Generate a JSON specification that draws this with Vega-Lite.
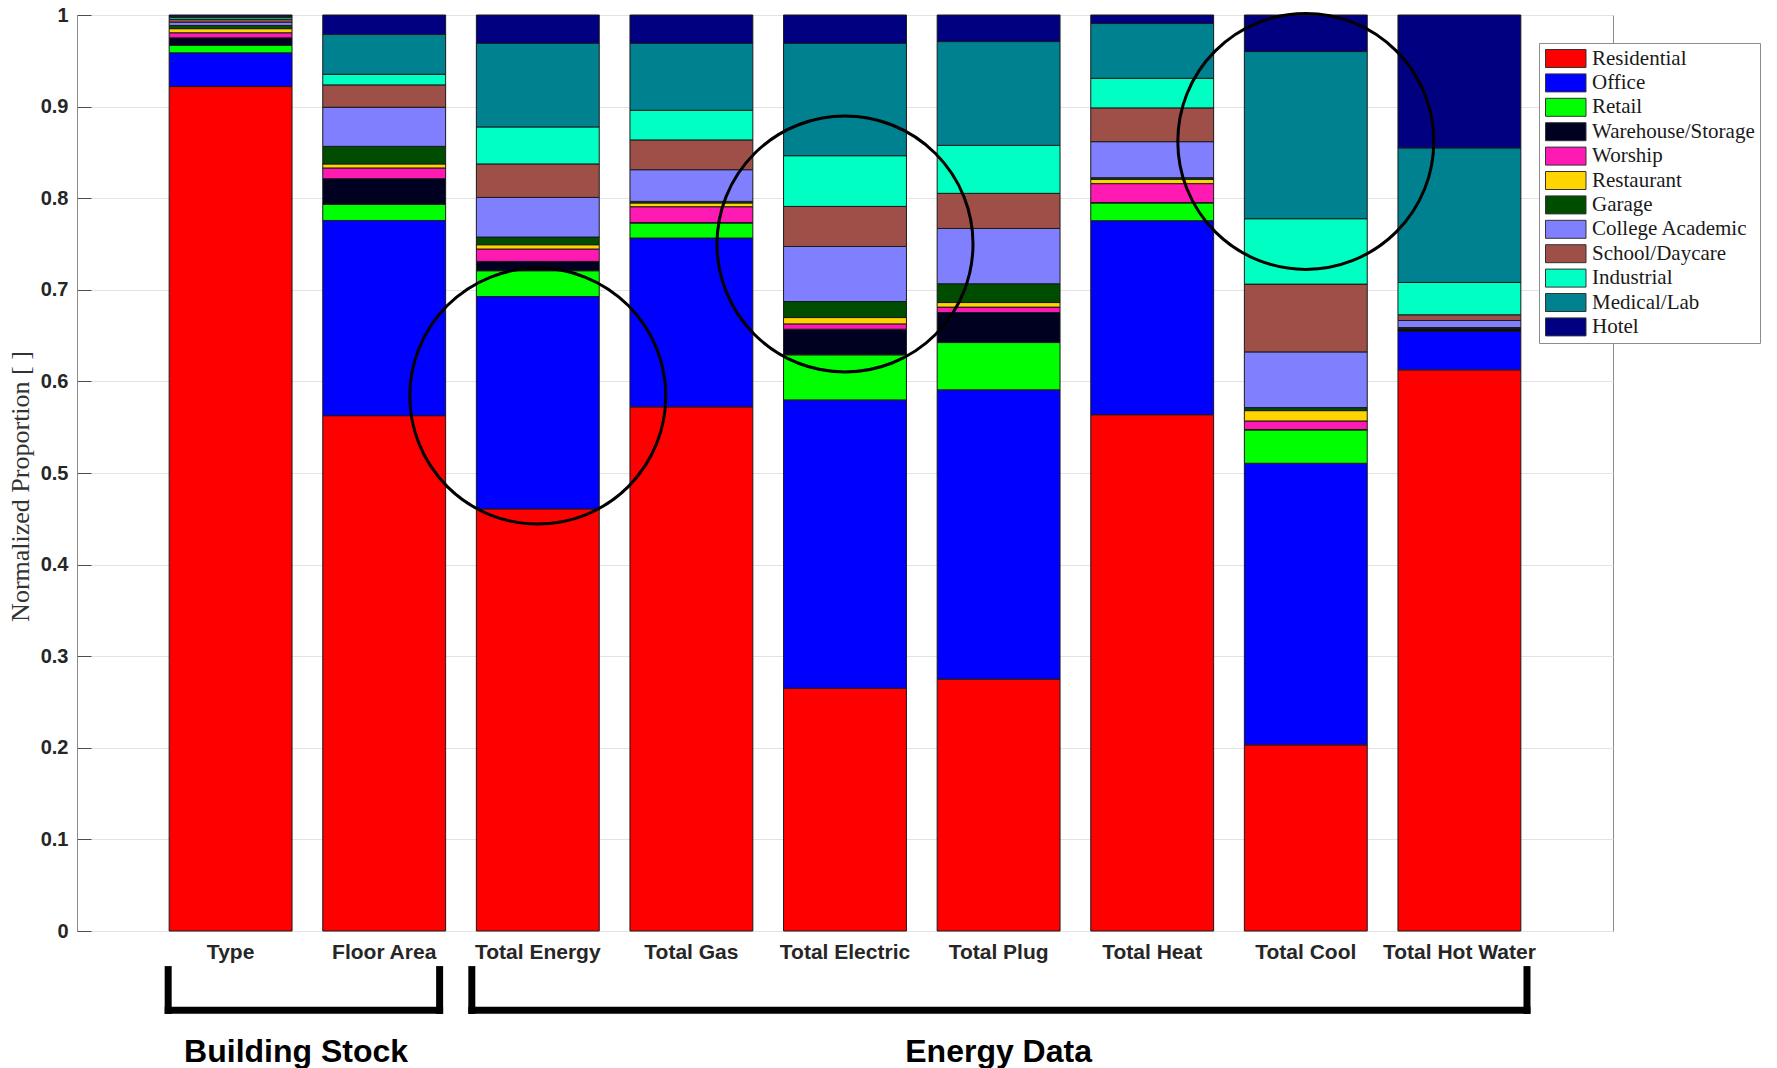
{
  "$schema": "https://vega.github.io/schema/vega-lite/v6.json",
  "width": 1536,
  "height": 916,
  "autosize": {"type": "none"},
  "padding": {"left": 77, "top": 15, "right": 164, "bottom": 137},
  "background": "white",
  "config": {"view": {"stroke": "#8c8c8c", "strokeWidth": 1}},
  "datasets": {
    "shares": [
      {"measure": "Type", "type": "Residential", "share": 0.9219},
      {"measure": "Type", "type": "Office", "share": 0.0368},
      {"measure": "Type", "type": "Retail", "share": 0.0083},
      {"measure": "Type", "type": "Warehouse/Storage", "share": 0.0081},
      {"measure": "Type", "type": "Worship", "share": 0.0055},
      {"measure": "Type", "type": "Restaurant", "share": 0.0045},
      {"measure": "Type", "type": "Garage", "share": 0.0035},
      {"measure": "Type", "type": "College Academic", "share": 0.0036},
      {"measure": "Type", "type": "School/Daycare", "share": 0.003},
      {"measure": "Type", "type": "Industrial", "share": 0.0019},
      {"measure": "Type", "type": "Medical/Lab", "share": 0.0015},
      {"measure": "Type", "type": "Hotel", "share": 0.0014},
      {"measure": "Floor Area", "type": "Residential", "share": 0.5626},
      {"measure": "Floor Area", "type": "Office", "share": 0.2131},
      {"measure": "Floor Area", "type": "Retail", "share": 0.0176},
      {"measure": "Floor Area", "type": "Warehouse/Storage", "share": 0.028},
      {"measure": "Floor Area", "type": "Worship", "share": 0.0117},
      {"measure": "Floor Area", "type": "Restaurant", "share": 0.0044},
      {"measure": "Floor Area", "type": "Garage", "share": 0.0192},
      {"measure": "Floor Area", "type": "College Academic", "share": 0.0427},
      {"measure": "Floor Area", "type": "School/Daycare", "share": 0.0244},
      {"measure": "Floor Area", "type": "Industrial", "share": 0.0116},
      {"measure": "Floor Area", "type": "Medical/Lab", "share": 0.0434},
      {"measure": "Floor Area", "type": "Hotel", "share": 0.0213},
      {"measure": "Total Energy", "type": "Residential", "share": 0.4608},
      {"measure": "Total Energy", "type": "Office", "share": 0.2319},
      {"measure": "Total Energy", "type": "Retail", "share": 0.0281},
      {"measure": "Total Energy", "type": "Warehouse/Storage", "share": 0.0102},
      {"measure": "Total Energy", "type": "Worship", "share": 0.0135},
      {"measure": "Total Energy", "type": "Restaurant", "share": 0.0047},
      {"measure": "Total Energy", "type": "Garage", "share": 0.0084},
      {"measure": "Total Energy", "type": "College Academic", "share": 0.0433},
      {"measure": "Total Energy", "type": "School/Daycare", "share": 0.0365},
      {"measure": "Total Energy", "type": "Industrial", "share": 0.0404},
      {"measure": "Total Energy", "type": "Medical/Lab", "share": 0.0914},
      {"measure": "Total Energy", "type": "Hotel", "share": 0.0308},
      {"measure": "Total Gas", "type": "Residential", "share": 0.5722},
      {"measure": "Total Gas", "type": "Office", "share": 0.1843},
      {"measure": "Total Gas", "type": "Retail", "share": 0.0164},
      {"measure": "Total Gas", "type": "Warehouse/Storage", "share": 0.0006},
      {"measure": "Total Gas", "type": "Worship", "share": 0.0172},
      {"measure": "Total Gas", "type": "Restaurant", "share": 0.0041},
      {"measure": "Total Gas", "type": "Garage", "share": 0.0017},
      {"measure": "Total Gas", "type": "College Academic", "share": 0.0346},
      {"measure": "Total Gas", "type": "School/Daycare", "share": 0.0325},
      {"measure": "Total Gas", "type": "Industrial", "share": 0.0324},
      {"measure": "Total Gas", "type": "Medical/Lab", "share": 0.0732},
      {"measure": "Total Gas", "type": "Hotel", "share": 0.0308},
      {"measure": "Total Electric", "type": "Residential", "share": 0.2651},
      {"measure": "Total Electric", "type": "Office", "share": 0.3147},
      {"measure": "Total Electric", "type": "Retail", "share": 0.0492},
      {"measure": "Total Electric", "type": "Warehouse/Storage", "share": 0.028},
      {"measure": "Total Electric", "type": "Worship", "share": 0.0058},
      {"measure": "Total Electric", "type": "Restaurant", "share": 0.0069},
      {"measure": "Total Electric", "type": "Garage", "share": 0.0175},
      {"measure": "Total Electric", "type": "College Academic", "share": 0.0601},
      {"measure": "Total Electric", "type": "School/Daycare", "share": 0.0437},
      {"measure": "Total Electric", "type": "Industrial", "share": 0.0554},
      {"measure": "Total Electric", "type": "Medical/Lab", "share": 0.1228},
      {"measure": "Total Electric", "type": "Hotel", "share": 0.0308},
      {"measure": "Total Plug", "type": "Residential", "share": 0.275},
      {"measure": "Total Plug", "type": "Office", "share": 0.3158},
      {"measure": "Total Plug", "type": "Retail", "share": 0.0516},
      {"measure": "Total Plug", "type": "Warehouse/Storage", "share": 0.0328},
      {"measure": "Total Plug", "type": "Worship", "share": 0.0059},
      {"measure": "Total Plug", "type": "Restaurant", "share": 0.005},
      {"measure": "Total Plug", "type": "Garage", "share": 0.0205},
      {"measure": "Total Plug", "type": "College Academic", "share": 0.0604},
      {"measure": "Total Plug", "type": "School/Daycare", "share": 0.0383},
      {"measure": "Total Plug", "type": "Industrial", "share": 0.0524},
      {"measure": "Total Plug", "type": "Medical/Lab", "share": 0.1133},
      {"measure": "Total Plug", "type": "Hotel", "share": 0.029},
      {"measure": "Total Heat", "type": "Residential", "share": 0.5636},
      {"measure": "Total Heat", "type": "Office", "share": 0.2118},
      {"measure": "Total Heat", "type": "Retail", "share": 0.0194},
      {"measure": "Total Heat", "type": "Warehouse/Storage", "share": 0.0005},
      {"measure": "Total Heat", "type": "Worship", "share": 0.0206},
      {"measure": "Total Heat", "type": "Restaurant", "share": 0.0047},
      {"measure": "Total Heat", "type": "Garage", "share": 0.0018},
      {"measure": "Total Heat", "type": "College Academic", "share": 0.0393},
      {"measure": "Total Heat", "type": "School/Daycare", "share": 0.0369},
      {"measure": "Total Heat", "type": "Industrial", "share": 0.0323},
      {"measure": "Total Heat", "type": "Medical/Lab", "share": 0.0598},
      {"measure": "Total Heat", "type": "Hotel", "share": 0.0093},
      {"measure": "Total Cool", "type": "Residential", "share": 0.2032},
      {"measure": "Total Cool", "type": "Office", "share": 0.3074},
      {"measure": "Total Cool", "type": "Retail", "share": 0.0364},
      {"measure": "Total Cool", "type": "Warehouse/Storage", "share": 0.0005},
      {"measure": "Total Cool", "type": "Worship", "share": 0.0093},
      {"measure": "Total Cool", "type": "Restaurant", "share": 0.0113},
      {"measure": "Total Cool", "type": "Garage", "share": 0.0033},
      {"measure": "Total Cool", "type": "College Academic", "share": 0.0608},
      {"measure": "Total Cool", "type": "School/Daycare", "share": 0.074},
      {"measure": "Total Cool", "type": "Industrial", "share": 0.0714},
      {"measure": "Total Cool", "type": "Medical/Lab", "share": 0.1825},
      {"measure": "Total Cool", "type": "Hotel", "share": 0.0399},
      {"measure": "Total Hot Water", "type": "Residential", "share": 0.6126},
      {"measure": "Total Hot Water", "type": "Office", "share": 0.0419},
      {"measure": "Total Hot Water", "type": "Retail", "share": 0.0003},
      {"measure": "Total Hot Water", "type": "Warehouse/Storage", "share": 0.0025},
      {"measure": "Total Hot Water", "type": "Worship", "share": 0.0003},
      {"measure": "Total Hot Water", "type": "Restaurant", "share": 0.0003},
      {"measure": "Total Hot Water", "type": "Garage", "share": 0.0009},
      {"measure": "Total Hot Water", "type": "College Academic", "share": 0.0077},
      {"measure": "Total Hot Water", "type": "School/Daycare", "share": 0.0062},
      {"measure": "Total Hot Water", "type": "Industrial", "share": 0.0353},
      {"measure": "Total Hot Water", "type": "Medical/Lab", "share": 0.1469},
      {"measure": "Total Hot Water", "type": "Hotel", "share": 0.1451}
    ],
    "types": [
      {"type": "Residential", "rank": 1},
      {"type": "Office", "rank": 2},
      {"type": "Retail", "rank": 3},
      {"type": "Warehouse/Storage", "rank": 4},
      {"type": "Worship", "rank": 5},
      {"type": "Restaurant", "rank": 6},
      {"type": "Garage", "rank": 7},
      {"type": "College Academic", "rank": 8},
      {"type": "School/Daycare", "rank": 9},
      {"type": "Industrial", "rank": 10},
      {"type": "Medical/Lab", "rank": 11},
      {"type": "Hotel", "rank": 12}
    ],
    "circles": [
      {"measure": "Total Energy", "center": 0.584},
      {"measure": "Total Electric", "center": 0.75},
      {"measure": "Total Cool", "center": 0.862}
    ]
  },
  "layer": [
    {
      "data": {"name": "shares"},
      "transform": [
        {"lookup": "type", "from": {"data": {"name": "types"}, "key": "type", "fields": ["rank"]}}
      ],
      "mark": {"type": "bar", "stroke": "#1a1a1a", "strokeWidth": 1},
      "encoding": {
        "x": {
          "field": "measure",
          "type": "nominal",
          "sort": ["Type", "Floor Area", "Total Energy", "Total Gas", "Total Electric", "Total Plug", "Total Heat", "Total Cool", "Total Hot Water"],
          "scale": {
            "domain": ["Type", "Floor Area", "Total Energy", "Total Gas", "Total Electric", "Total Plug", "Total Heat", "Total Cool", "Total Hot Water"],
            "paddingInner": 0.2,
            "paddingOuter": 0.6
          },
          "axis": {
            "title": null,
            "ticks": false,
            "domain": false,
            "grid": false,
            "labelAngle": 0,
            "labelFont": "Liberation Sans",
            "labelFontWeight": "bold",
            "labelFontSize": 21,
            "labelColor": "#262626",
            "labelPadding": 10
          }
        },
        "y": {
          "field": "share",
          "type": "quantitative",
          "stack": "zero",
          "scale": {"domain": [0, 1], "nice": false},
          "axis": {
            "title": "Normalized Proportion [ ]",
            "values": [0, 0.1, 0.2, 0.3, 0.4, 0.5, 0.6, 0.7, 0.8, 0.9, 1],
            "format": "~g",
            "domain": false,
            "grid": true,
            "gridColor": "#e3e3e3",
            "gridWidth": 1,
            "tickSize": -14,
            "tickColor": "#4d4d4d",
            "tickWidth": 1,
            "labelPadding": 23,
            "labelFont": "Liberation Sans",
            "labelFontWeight": "bold",
            "labelFontSize": 20,
            "labelColor": "#262626",
            "labelOverlap": false,
            "labelFlush": false,
            "titleFont": "Liberation Serif",
            "titleFontWeight": "normal",
            "titleFontSize": 26,
            "titleColor": "#333333",
            "titlePadding": 7,
            "titleY": 471
          }
        },
        "color": {
          "field": "type",
          "type": "nominal",
          "scale": {
            "domain": ["Residential", "Office", "Retail", "Warehouse/Storage", "Worship", "Restaurant", "Garage", "College Academic", "School/Daycare", "Industrial", "Medical/Lab", "Hotel"],
            "range": ["#ff0000", "#0000ff", "#00ff00", "#000020", "#ff1ab3", "#ffd400", "#004d00", "#8080ff", "#9e5048", "#00ffc2", "#00818f", "#000080"]
          },
          "legend": {
            "title": null,
            "orient": "none",
            "legendX": 1462,
            "legendY": 28,
            "padding": 5,
            "strokeColor": "#8c8c8c",
            "fillColor": "#ffffff",
            "symbolType": "M-1,-1H3.5V1H-1Z",
            "symbolSize": 324,
            "symbolStrokeColor": "#333333",
            "symbolStrokeWidth": 1,
            "symbolOpacity": 1,
            "labelFont": "Liberation Serif",
            "labelFontSize": 21,
            "labelColor": "#1a1a1a",
            "labelOffset": 27,
            "labelLimit": 400,
            "rowPadding": 1.4
          }
        },
        "order": {"field": "rank", "type": "quantitative", "sort": "ascending"}
      }
    },
    {
      "data": {"name": "circles"},
      "mark": {"type": "point", "shape": "circle", "filled": false, "size": 65536, "stroke": "#000000", "strokeWidth": 3, "opacity": 1},
      "encoding": {
        "x": {"field": "measure", "type": "nominal"},
        "y": {"field": "center", "type": "quantitative"}
      }
    },
    {
      "data": {"values": [{"group": "Building Stock"}]},
      "layer": [
        {
          "mark": {"type": "rule", "strokeWidth": 7, "strokeCap": "butt", "color": "#000000"},
          "encoding": {
            "x": {"datum": "Type", "type": "nominal", "bandPosition": -0.008},
            "y": {"datum": -0.0383, "type": "quantitative"},
            "y2": {"datum": -0.0905}
          }
        },
        {
          "mark": {"type": "rule", "strokeWidth": 7, "strokeCap": "butt", "color": "#000000"},
          "encoding": {
            "x": {"datum": "Floor Area", "type": "nominal", "bandPosition": 0.951},
            "y": {"datum": -0.0383, "type": "quantitative"},
            "y2": {"datum": -0.0905}
          }
        },
        {
          "mark": {"type": "rule", "strokeWidth": 7, "strokeCap": "square", "color": "#000000"},
          "encoding": {
            "x": {"datum": "Type", "type": "nominal", "bandPosition": -0.008},
            "x2": {"datum": "Floor Area", "bandPosition": 0.951},
            "y": {"datum": -0.0866, "type": "quantitative"}
          }
        },
        {
          "mark": {"type": "text", "font": "Liberation Sans", "fontWeight": "bold", "fontSize": 32, "color": "#000000", "align": "center", "baseline": "alphabetic"},
          "encoding": {
            "x": {"datum": "Type", "type": "nominal", "bandPosition": 1.033},
            "y": {"datum": -0.1426, "type": "quantitative"},
            "text": {"field": "group"}
          }
        }
      ]
    },
    {
      "data": {"values": [{"group": "Energy Data"}]},
      "layer": [
        {
          "mark": {"type": "rule", "strokeWidth": 7, "strokeCap": "butt", "color": "#000000"},
          "encoding": {
            "x": {"datum": "Total Energy", "type": "nominal", "bandPosition": -0.037},
            "y": {"datum": -0.0383, "type": "quantitative"},
            "y2": {"datum": -0.0905}
          }
        },
        {
          "mark": {"type": "rule", "strokeWidth": 7, "strokeCap": "butt", "color": "#000000"},
          "encoding": {
            "x": {"datum": "Total Hot Water", "type": "nominal", "bandPosition": 1.05},
            "y": {"datum": -0.0383, "type": "quantitative"},
            "y2": {"datum": -0.0905}
          }
        },
        {
          "mark": {"type": "rule", "strokeWidth": 7, "strokeCap": "square", "color": "#000000"},
          "encoding": {
            "x": {"datum": "Total Energy", "type": "nominal", "bandPosition": -0.037},
            "x2": {"datum": "Total Hot Water", "bandPosition": 1.05},
            "y": {"datum": -0.0866, "type": "quantitative"}
          }
        },
        {
          "mark": {"type": "text", "font": "Liberation Sans", "fontWeight": "bold", "fontSize": 32, "color": "#000000", "align": "center", "baseline": "alphabetic"},
          "encoding": {
            "x": {"datum": "Total Plug", "type": "nominal", "bandPosition": 0.5},
            "y": {"datum": -0.1426, "type": "quantitative"},
            "text": {"field": "group"}
          }
        }
      ]
    }
  ]
}
